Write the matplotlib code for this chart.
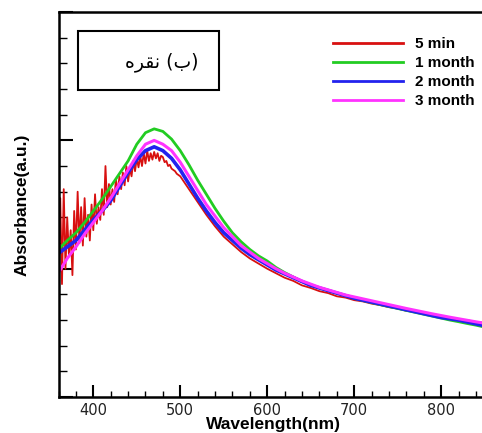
import numpy as np
import matplotlib.pyplot as plt
from matplotlib.patches import Rectangle
from matplotlib.ticker import MultipleLocator, NullFormatter

# smooth curves, every 10 nm from 360 to 850
wl = np.arange(360, 851, 10)

green = [1.15, 1.22, 1.28, 1.36, 1.45, 1.54, 1.64, 1.74, 1.84, 1.97,
         2.06, 2.09, 2.07, 2.01, 1.92, 1.81, 1.69, 1.58, 1.47, 1.37,
         1.28, 1.21, 1.15, 1.10, 1.06, 1.01, 0.97, 0.935, 0.90, 0.875,
         0.85, 0.83, 0.81, 0.79, 0.77, 0.752, 0.736, 0.72, 0.705, 0.69,
         0.675, 0.66, 0.645, 0.63, 0.615, 0.60, 0.587, 0.573, 0.56, 0.545]

blue = [1.12, 1.17, 1.22, 1.30, 1.38, 1.45, 1.53, 1.64, 1.75, 1.85,
        1.92, 1.95, 1.92, 1.86, 1.77, 1.66, 1.55, 1.45, 1.36, 1.28,
        1.22, 1.16, 1.11, 1.07, 1.03, 0.99, 0.96, 0.93, 0.90, 0.87,
        0.85, 0.83, 0.81, 0.79, 0.77, 0.755, 0.74, 0.725, 0.71, 0.695,
        0.68, 0.665, 0.65, 0.635, 0.62, 0.61, 0.60, 0.585, 0.57, 0.555]

magenta = [0.97, 1.08, 1.17, 1.27, 1.36, 1.45, 1.55, 1.66, 1.77, 1.88,
           1.97, 2.00, 1.97, 1.92, 1.83, 1.72, 1.61, 1.50, 1.41, 1.32,
           1.25, 1.18, 1.13, 1.08, 1.04, 1.00, 0.965, 0.935, 0.905, 0.88,
           0.855, 0.835, 0.815, 0.795, 0.78, 0.765, 0.75, 0.735, 0.72, 0.705,
           0.69, 0.676, 0.662, 0.648, 0.635, 0.622, 0.61, 0.598, 0.586, 0.575]

# red (5 min) is noisy on the short wavelength side: 2 nm steps up to 500, then 10 nm
red_wl = list(range(360, 501, 2)) + list(range(510, 851, 10))
red = [1.05, 1.55, 0.88, 1.62, 1.00, 1.40, 1.10, 1.30, 0.95, 1.45,
       1.15, 1.60, 1.20, 1.48, 1.18, 1.55, 1.25, 1.42, 1.22, 1.50,
       1.30, 1.58, 1.35, 1.48, 1.38, 1.62, 1.42, 1.80, 1.48, 1.66,
       1.50, 1.62, 1.52, 1.70, 1.58, 1.72, 1.62, 1.75, 1.65, 1.80,
       1.68, 1.78, 1.72, 1.84, 1.76, 1.86, 1.79, 1.88, 1.80, 1.90,
       1.82, 1.92, 1.84, 1.90, 1.85, 1.91, 1.86, 1.90, 1.84, 1.88,
       1.87, 1.83, 1.84, 1.80, 1.81, 1.78, 1.77, 1.76, 1.74, 1.73,
       1.72,
       1.62, 1.52, 1.42, 1.33, 1.25, 1.19, 1.13, 1.08, 1.04, 1.00,
       0.965, 0.93, 0.905, 0.87, 0.85, 0.825, 0.81, 0.785, 0.775, 0.755,
       0.745, 0.728, 0.716, 0.70, 0.69, 0.672, 0.665, 0.648, 0.64, 0.625,
       0.617, 0.603, 0.598, 0.585, 0.578]

labels = ['5 min', '1 month', '2 month', '3 month']
colors = ['#d81010', '#22cc22', '#2222ee', '#ff33ff']

fig = plt.figure(figsize=(4.82, 4.33), dpi=100)
# axes run past the right edge of the picture (it is cropped there)
ax = fig.add_axes([0.1214, 0.0831, 0.8786 * 500 / 487, 0.889])

ax.plot(red_wl, red, color=colors[0], lw=1.3, label=labels[0])
ax.plot(wl, green, color=colors[1], lw=2.0, label=labels[1])
ax.plot(wl, blue, color=colors[2], lw=2.6, label=labels[2])
ax.plot(wl, magenta, color=colors[3], lw=2.2, label=labels[3])

ax.set_xlim(360, 860)
ax.set_ylim(0, 3)
ax.xaxis.set_major_locator(MultipleLocator(100))
ax.xaxis.set_minor_locator(MultipleLocator(20))
ax.yaxis.set_major_locator(MultipleLocator(1))
ax.yaxis.set_minor_locator(MultipleLocator(0.2))
ax.yaxis.set_major_formatter(NullFormatter())
ax.tick_params(axis='x', which='major', direction='in', length=9, width=1.5,
               labelsize=10.5, pad=4, labelcolor='#222222')
ax.tick_params(axis='x', which='minor', direction='in', length=4, width=1)
ax.tick_params(axis='y', which='major', direction='in', length=10, width=1.5)
ax.tick_params(axis='y', which='minor', direction='in', length=6, width=1)
for s in ax.spines.values():
    s.set_linewidth(1.8)

fig.text(273 / 482, 1 - 425 / 433, 'Wavelength(nm)', ha='center', va='center',
         fontsize=12.5, fontweight='bold', family='Liberation Sans')
fig.text(22 / 482, 1 - 205 / 433, 'Absorbance(a.u.)', ha='center', va='center',
         rotation=90, fontsize=12.5, fontweight='bold', family='Liberation Sans')

leg = ax.legend(loc='upper left', bbox_to_anchor=(333 / 482, 1 - 37 / 433),
                bbox_transform=fig.transFigure, frameon=False, borderpad=0,
                borderaxespad=0, handlelength=4.6, handletextpad=0.75,
                labelspacing=0.33, prop={'family': 'Liberation Sans', 'weight': 'bold', 'size': 11})
for h in leg.get_lines():
    h.set_linewidth(2)

# label box, Persian text written in presentation forms (visual order)
fig.patches.append(Rectangle((78 / 482, 1 - 90 / 433), 141 / 482, 59 / 433,
                             transform=fig.transFigure, fill=False, lw=1.5, ec='black'))
fig.text(162 / 482, 1 - 62 / 433, '\uFEE9\uFEAE\uFED8\uFEE7 (\uFE8F)',
         ha='center', va='center', fontsize=13.5, family=['DejaVu Sans'])

fig.savefig('out.png', dpi=100)
